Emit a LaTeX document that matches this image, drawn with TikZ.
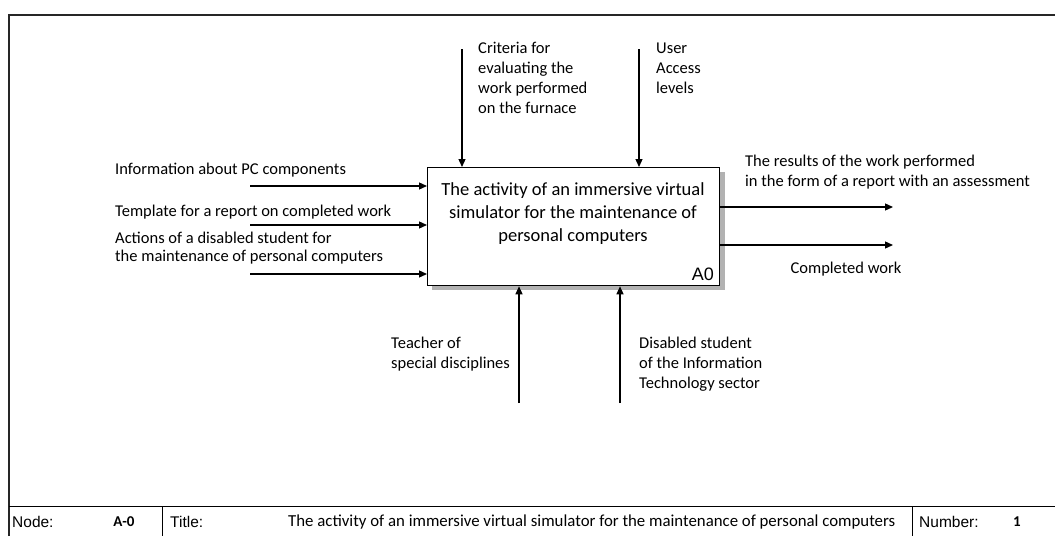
\documentclass[tikz,border=0pt]{standalone}
\usepackage{fontspec}
\setmainfont{Carlito}
\newfontfamily\arialf{Liberation Sans}
\usetikzlibrary{arrows.meta,shadows}
\begin{document}
\begin{tikzpicture}[x=1pt,y=-1pt,
  arr/.style={line width=1.3pt,-{Triangle[length=8pt,width=7pt]}},
  lbl/.style={font=\fontsize{16.5}{20}\selectfont,align=left,inner sep=0pt},
  frame/.style={line width=1.4pt,draw=black!85},
  bar/.style={font=\arialf\fontsize{15.5}{16}\selectfont,inner sep=0pt},
  barv/.style={font=\fontsize{15}{16}\selectfont\bfseries,inner sep=0pt}]
\useasboundingbox (0,0) rectangle (1055,536);
% frame
\draw[frame] (9,536) -- (9,15) -- (1055,15);
\draw[line width=1pt] (9,506) -- (1055,506);
\draw[line width=1pt] (162,506) -- (162,536);
\draw[line width=1pt] (912,506) -- (912,536);
\node[bar,anchor=west] (nodel) at (12,522) {Node:};
\node[barv,anchor=center] (nodev) at (124,522) {A-0};
\node[bar,anchor=west] (titlel) at (170,522) {Title:};
\node[lbl,anchor=west,font=\fontsize{16.8}{20}\selectfont] (titlev) at (288,522) {The activity of an immersive virtual simulator for the maintenance of personal computers};
\node[bar,anchor=west] (numl) at (919,522) {Number:};
\node[barv,anchor=center] (numv) at (1017,522) {1};
% main box
\fill[black!30] (432,172) rectangle (725,290);
\node[draw,line width=1.3pt,fill=white,minimum width=292pt,minimum height=118pt,inner sep=0pt,anchor=north west] (A0) at (427,167) {};
\node[font=\fontsize{18.5}{23}\selectfont,align=center] (A0t) at (573,214) {The activity of an immersive virtual\\simulator for the maintenance of\\personal computers};
\node[font=\arialf\fontsize{18}{20}\selectfont,anchor=south east,inner sep=0pt] (A0n) at (714,281) {A0};
% inputs
\coordinate (i1) at (250,186);
\coordinate (i2) at (250,225);
\coordinate (i3) at (250,274);
\draw[arr] (i1) -- (i1 -| A0.west);
\draw[arr] (i2) -- (i2 -| A0.west);
\draw[arr] (i3) -- (i3 -| A0.west);
\node[lbl,anchor=west] (il1) at (115,170) {Information about PC components};
\node[lbl,anchor=west] (il2) at (115,212) {Template for a report on completed work};
\node[lbl,anchor=west,font=\fontsize{16.5}{17.5}\selectfont] (il3) at (115,248) {Actions of a disabled student for\\the maintenance of personal computers};
% outputs
\coordinate (o1) at (893,207);
\coordinate (o2) at (893,245);
\draw[arr] (o1 -| A0.east) -- (o1);
\draw[arr] (o2 -| A0.east) -- (o2);
\node[lbl,anchor=west] (ol1) at (745,172) {The results of the work performed\\in the form of a report with an assessment};
\node[lbl,anchor=center] (ol2) at (846,269) {Completed work};
% controls
\coordinate (c1) at (462,49);
\coordinate (c2) at (639,49);
\draw[arr] (c1) -- (c1 |- A0.north);
\draw[arr] (c2) -- (c2 |- A0.north);
\node[lbl,anchor=north west] (cl1) at (478,42) {Criteria for\\evaluating the\\work performed\\on the furnace};
\node[lbl,anchor=north west] (cl2) at (656,43) {User\\Access\\levels};
% mechanisms
\coordinate (m1) at (519,403);
\coordinate (m2) at (620,403);
\draw[arr] (m1) -- (m1 |- A0.south);
\draw[arr] (m2) -- (m2 |- A0.south);
\node[lbl,anchor=north west] (ml1) at (391,337) {Teacher of\\special disciplines};
\node[lbl,anchor=north west] (ml2) at (639,337) {Disabled student\\of the Information\\Technology sector};
\end{tikzpicture}
\end{document}
